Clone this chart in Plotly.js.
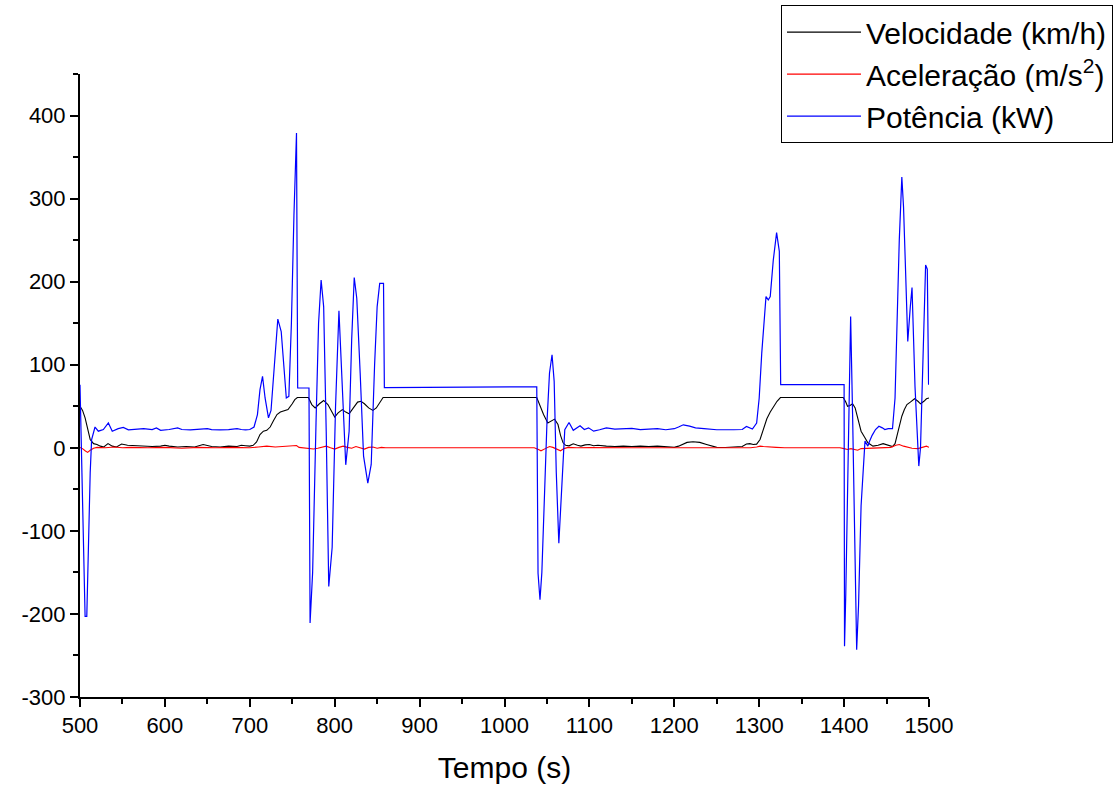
<!DOCTYPE html>
<html>
<head>
<meta charset="utf-8">
<script src="https://cdn.plot.ly/plotly-3.0.1.min.js"></script>
<style>html,body{margin:0;padding:0;background:#fff;}#chart{width:1116px;height:794px;}</style>
</head>
<body>
<div id="chart"></div>
<script>
// Velocidade (km/h)
const tVel = [500,503,506,509,512,516,520,524,528,533,538,543,549,556,565,575,585,595,600,605,615,625,635,645,650,655,665,675,685,690,695,700,704,708,712,716,720,724,728,732,736,740,745,750,753,756,769,773,777,782,787,792,797,800,804,809,813,817,822,827,831,835,840,845,849,853,857,1038,1042,1046,1051,1055,1059,1063,1066,1069,1072,1076,1081,1086,1090,1095,1100,1105,1110,1120,1130,1140,1150,1160,1170,1180,1190,1195,1200,1205,1210,1215,1222,1230,1238,1245,1250,1260,1270,1280,1285,1289,1293,1297,1301,1305,1309,1313,1317,1321,1325,1399,1402,1404,1407,1410,1413,1416,1420,1424,1428,1434,1440,1446,1452,1457,1460,1463,1466,1468,1471,1474,1478,1483,1487,1490,1494,1497,1500];
const velocidade = [50,45,36,22,10,5,4,2,1,5,2,1,4.5,3,2.5,2,1.5,2,3,2,1,1.5,1,4,3,1.5,1,2,1.5,3,2.5,2,3,7,16,20,21,25,33,40,43,44,46,53,58,60.5,60.5,52,48,53,57,52,42,37,42,46,43,41,48,55,56,53,48,45,48,55,60.5,60.5,50,40,30,32,34.5,28,15,6,3,2.4,4.8,3,2,3.5,4,2.5,3,2,1.5,2,1.5,2,1.5,2,1.5,1,0.5,2,4.5,6.5,7.2,6.5,4,2,0.5,0.3,0.5,1.5,4.5,5,4,4.4,10,22,35,43,50,56,60.5,60.5,55,50,51,53,48,35,20,13,6,2,3,5,3,1.5,5,18,32,38,46,52,55,59,56,53,56,59,60];

// Aceleração (m/s2)
const tAce = [500,503,506,509,512,516,520,530,540,550,560,580,600,620,640,660,680,700,710,720,730,740,750,755,758,765,770,775,780,785,790,795,800,805,810,815,820,825,830,835,840,845,850,855,860,1035,1040,1043,1048,1053,1057,1062,1066,1070,1075,1085,1100,1150,1200,1250,1290,1297,1301,1305,1310,1320,1330,1395,1400,1404,1408,1412,1416,1420,1428,1440,1455,1461,1465,1470,1475,1480,1487,1492,1497,1500];
const aceleracao = [0.4,-1,-3.5,-5.5,-3,-0.5,0.5,0,1,0,0.5,0,0.5,-0.5,0.5,0,0.5,0,1,2,1,1.5,2,2.8,0.5,0,-0.5,-1.5,-0.5,1,2,0,-1.5,0.5,2,0.5,-0.5,1.5,0,-1.5,0.5,1,-0.5,0.5,0,0,-2,-3.6,-1,1.6,0.5,-2,-3.6,-1,0.5,0,0.3,0,0.3,0,0,1,2,1.5,1,0.5,0,0,-1,-2,-1,-2,-3,-1,-0.5,0,0.5,3,4,2,0.5,-0.5,-1,0.5,2,0.5];

// Potência (kW)
const tPot = [
  500,502.7,506,508,509.8,512,513.7,517.7,521.6,527.5,
  533.4,538,545,551,557,563,575,585,590,595,
  605,615,620,630,640,650,655,665,675,685,
  690,695,700,705,709,712,715,718,722,725,
  729,733,737,740,743,746,749,752,755,756.4,
  769.7,771,774,778,781,784,787,790,793,797,
  801,805,809,813,817,820,823,826,830,834,
  839,843,847,850,853,856,857.5,858.5,920,970,
  1038,1039.5,1041.8,1044,1047,1050,1053,1056,1058.5,1061,
  1064,1067,1071,1076,1081,1089,1094,1099,1105,1112,
  1120,1130,1140,1150,1160,1170,1180,1190,1200,1205,
  1210.6,1218,1225,1235,1250,1270,1280,1285,1292,1297,
  1300,1303,1306,1308,1310.7,1313,1316.6,1320.5,1323.7,1325.3,
  1400,1400.5,1402,1405,1407.7,1410,1412,1414.8,1417,1420,
  1424.6,1428,1430,1433,1437,1441,1445,1448,1452,1457,
  1460,1462,1465,1468,1470,1472,1475,1478,1480,1483.5,
  1486,1488,1490,1493,1496,1498,1499.5];
const potencia = [
  76,-71,-203,-203,-111,-30,10,25,20,22,
  30,20,23,24.5,21.7,22,23,22,24,21,
  22,24,22,21.5,22,23,22,21.5,22,23,
  22,21.5,22,25,40,70,86,60,36,45,
  100,155,140,100,60,62,150,280,379,72,
  72,-211,-150,30,150,202,170,20,-167,-120,
  50,165,80,-20.5,20,130,205,180,90,-10,
  -42.5,-20,100,170,198,198,198,72.5,73,73.5,
  73.5,-151,-183,-150,-60,30,90,112,80,-30,
  -115,-60,21.7,30.5,21,26.5,22,24,20,21.7,
  24,22.5,23,23.4,22,22.5,23,21.7,23,25,
  27.7,26,24,23,21.7,21.7,22,25.7,22.5,29.7,
  60,114,160,182,178,182,226,259,236.5,76,
  76,-239,-175,26,158,40,-80,-243,-190,-70,
  8,2,8,15,22,26,24,22,23,23,
  60,146,250,326,290,226,128,170,193,74,
  10,-22,0,100,220,215,76];

// Y tick labels
const yTickVals = [-300,-200,-100,0,100,200,300,400];
const yTickText = ['-300','-200','-100','0','100','200','300','400'];

const traces = [
  {x: tVel, y: velocidade, name: 'Velocidade (km/h)', legendgroup: 'a', type: 'scatter', mode: 'lines', line: {color: '#000000', width: 1.1}},
  {x: tAce, y: aceleracao, name: 'Aceleração (m/s<sup>2</sup>)', legendgroup: 'b', type: 'scatter', mode: 'lines', line: {color: '#ff0000', width: 1.1}},
  {x: tPot, y: potencia, name: 'Potência (kW)', legendgroup: 'c', type: 'scatter', mode: 'lines', line: {color: '#0000ff', width: 1.2}}
];

const font = 'Liberation Sans, Arial, sans-serif';
const layout = {
  width: 1116, height: 794,
  margin: {l: 80, r: 187, t: 74, b: 97, autoexpand: false},
  paper_bgcolor: '#ffffff', plot_bgcolor: '#ffffff',
  font: {family: font, color: '#000', size: 22},
  showlegend: true,
  legend: {
    x: 1.2167, xanchor: 'right', y: 1.1105, yanchor: 'top',
    bordercolor: '#000', borderwidth: 1, bgcolor: '#fff',
    font: {family: font, size: 30, color: '#000'},
    itemwidth: 74, traceorder: 'grouped', tracegroupgap: 0
  },
  xaxis: {
    range: [500, 1500], dtick: 100, tick0: 500,
    showgrid: false, zeroline: false,
    showline: true, linecolor: '#000', linewidth: 2,
    ticks: 'outside', ticklen: 8, tickwidth: 2, tickcolor: '#000',
    minor: {dtick: 50, ticks: 'outside', ticklen: 5, tickwidth: 2, tickcolor: '#000'},
    tickfont: {family: font, size: 22},
    title: {text: 'Tempo (s)', font: {family: font, size: 30}, standoff: 20}
  },
  yaxis: {
    range: [-300, 450],
    tickmode: 'array', tickvals: yTickVals, ticktext: yTickText,
    showgrid: false, zeroline: false,
    showline: true, linecolor: '#000', linewidth: 2,
    ticks: 'outside', ticklen: 8, tickwidth: 2, tickcolor: '#000',
    minor: {dtick: 50, tick0: 0, ticks: 'outside', ticklen: 5, tickwidth: 2, tickcolor: '#000'},
    tickfont: {family: font, size: 22}
  }
};

Plotly.newPlot('chart', traces, layout, {displayModeBar: false, staticPlot: true});
</script>
</body>
</html>
